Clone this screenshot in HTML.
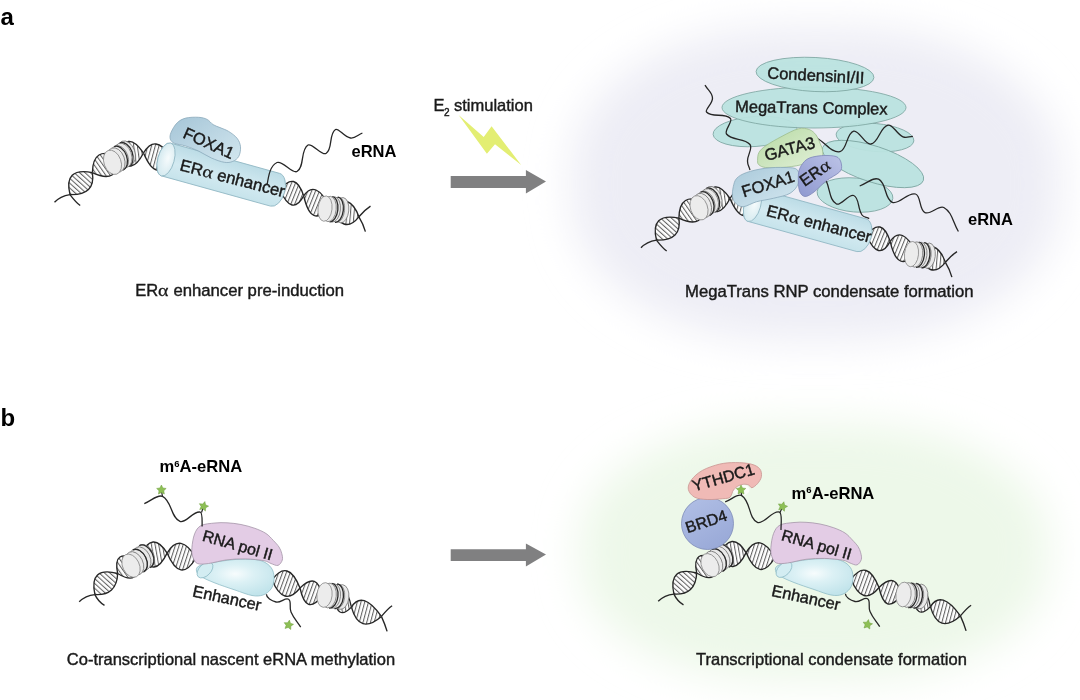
<!DOCTYPE html><html><head><meta charset="utf-8"><style>html,body{margin:0;padding:0;background:#fff;width:1080px;height:700px;overflow:hidden}svg{display:block;filter:blur(0.4px)}</style></head><body><svg width="1080" height="700" viewBox="0 0 1080 700" font-family="Liberation Sans, sans-serif"><defs><linearGradient id="cylA" x1="0" y1="0" x2="0" y2="1"><stop offset="0" stop-color="#bcdce6"/><stop offset="0.55" stop-color="#d3eaf1"/><stop offset="1" stop-color="#c6e3eb"/></linearGradient><radialGradient id="cylB" cx="0.5" cy="0.4" r="0.6"><stop offset="0" stop-color="#f7fcfd"/><stop offset="0.4" stop-color="#dcf1f5"/><stop offset="1" stop-color="#c2e4eb"/></radialGradient><linearGradient id="gFox" x1="0" y1="0" x2="1" y2="1"><stop offset="0" stop-color="#a5c5d7"/><stop offset="1" stop-color="#d3e7ef"/></linearGradient><linearGradient id="gFox2" x1="0" y1="0" x2="1" y2="1"><stop offset="0" stop-color="#a9c9da"/><stop offset="1" stop-color="#d5e8f0"/></linearGradient><linearGradient id="gGata" x1="0" y1="0" x2="1" y2="1"><stop offset="0" stop-color="#b6d9a2"/><stop offset="1" stop-color="#e3f1da"/></linearGradient><linearGradient id="gEra" x1="0" y1="1" x2="1" y2="0"><stop offset="0" stop-color="#8e98cf"/><stop offset="1" stop-color="#bcc3e7"/></linearGradient><linearGradient id="gBrd" x1="0" y1="0" x2="0.6" y2="1"><stop offset="0" stop-color="#b2c0e6"/><stop offset="1" stop-color="#9aaad8"/></linearGradient><radialGradient id="gFace" cx="0.6" cy="0.45" r="0.6"><stop offset="0" stop-color="#f6fbfc"/><stop offset="1" stop-color="#d3e9ef"/></radialGradient><filter id="blur" x="-30%" y="-30%" width="160%" height="160%"><feGaussianBlur stdDeviation="21"/></filter><pattern id="h0" patternUnits="userSpaceOnUse" width="3.6" height="10" patternTransform="rotate(-48)"><rect width="3.6" height="10" fill="#fff"/><line x1="0.6" y1="0" x2="0.6" y2="10" stroke="#3a3a3a" stroke-width="0.9"/></pattern><pattern id="h1" patternUnits="userSpaceOnUse" width="3.6" height="10" patternTransform="rotate(-35)"><rect width="3.6" height="10" fill="#fff"/><line x1="0.6" y1="0" x2="0.6" y2="10" stroke="#3a3a3a" stroke-width="0.9"/></pattern><pattern id="h2" patternUnits="userSpaceOnUse" width="3.6" height="10" patternTransform="rotate(-8)"><rect width="3.6" height="10" fill="#fff"/><line x1="0.6" y1="0" x2="0.6" y2="10" stroke="#3a3a3a" stroke-width="0.9"/></pattern><pattern id="h3" patternUnits="userSpaceOnUse" width="3.6" height="10" patternTransform="rotate(15)"><rect width="3.6" height="10" fill="#fff"/><line x1="0.6" y1="0" x2="0.6" y2="10" stroke="#3a3a3a" stroke-width="0.9"/></pattern><pattern id="h4" patternUnits="userSpaceOnUse" width="3.6" height="10" patternTransform="rotate(22)"><rect width="3.6" height="10" fill="#fff"/><line x1="0.6" y1="0" x2="0.6" y2="10" stroke="#3a3a3a" stroke-width="0.9"/></pattern><pattern id="h5" patternUnits="userSpaceOnUse" width="3.6" height="10" patternTransform="rotate(5)"><rect width="3.6" height="10" fill="#fff"/><line x1="0.6" y1="0" x2="0.6" y2="10" stroke="#3a3a3a" stroke-width="0.9"/></pattern><pattern id="h6" patternUnits="userSpaceOnUse" width="3.6" height="10" patternTransform="rotate(-10)"><rect width="3.6" height="10" fill="#fff"/><line x1="0.6" y1="0" x2="0.6" y2="10" stroke="#3a3a3a" stroke-width="0.9"/></pattern><pattern id="h7" patternUnits="userSpaceOnUse" width="3.6" height="10" patternTransform="rotate(18)"><rect width="3.6" height="10" fill="#fff"/><line x1="0.6" y1="0" x2="0.6" y2="10" stroke="#3a3a3a" stroke-width="0.9"/></pattern><pattern id="h8" patternUnits="userSpaceOnUse" width="3.6" height="10" patternTransform="rotate(20)"><rect width="3.6" height="10" fill="#fff"/><line x1="0.6" y1="0" x2="0.6" y2="10" stroke="#3a3a3a" stroke-width="0.9"/></pattern></defs><rect width="1080" height="700" fill="#fff"/><rect x="572" y="28" width="488" height="312" rx="210" ry="140" fill="#ededf5" filter="url(#blur)"/><rect x="580" y="424" width="468" height="256" rx="200" ry="115" fill="#edf8e9" filter="url(#blur)"/><text x="0.5" y="24.5" font-size="24" font-weight="bold" fill="#000" >a</text><text x="0.5" y="426.3" font-size="24" font-weight="bold" fill="#000" >b</text><path d="M54.5,202.3C57.5,199 62.5,195.8 70,194.6" fill="none" stroke="#262626" stroke-width="1.35" /><path d="M70,194.6C73,198.5 76,202.5 80.2,205.5" fill="none" stroke="#262626" stroke-width="1.35" /><path d="M70,194.6C65.47,176.2 72.93,168.87 92.4,172.6C94.67,187.8 87.2,195.13 70,194.6Z" fill="url(#h0)"/><path d="M70,194.6C65.47,176.2 72.93,168.87 92.4,172.6M70,194.6C87.2,195.13 94.67,187.8 92.4,172.6" fill="none" stroke="#262626" stroke-width="1.35"/><path d="M92.4,172.6C92.67,154.33 101.2,149.13 118,157C118.53,175.8 110,181 92.4,172.6Z" fill="url(#h1)"/><path d="M92.4,172.6C92.67,154.33 101.2,149.13 118,157M92.4,172.6C110,181 118.53,175.8 118,157" fill="none" stroke="#262626" stroke-width="1.35"/><path d="M118,157C123.5,137.67 132,136.33 143.5,153C135.33,169 126.83,170.33 118,157Z" fill="url(#h2)"/><path d="M118,157C123.5,137.67 132,136.33 143.5,153M118,157C126.83,170.33 135.33,169 143.5,153" fill="none" stroke="#262626" stroke-width="1.35"/><path d="M143.5,153C151.33,140 160.17,141 170,156C161.5,175.67 152.67,174.67 143.5,153Z" fill="url(#h3)"/><path d="M143.5,153C151.33,140 160.17,141 170,156M143.5,153C152.67,174.67 161.5,175.67 170,156" fill="none" stroke="#262626" stroke-width="1.35"/><ellipse cx="126.5" cy="153.1" rx="8.5" ry="12.6" transform="rotate(-20 126.5 153.1)" fill="#e9e9e9" stroke="#777" stroke-width="0.8"/><path transform="translate(124.05 154.71) rotate(-20)" d="M0,-12.6A8.5,12.6 0 0 1 0,12.6" fill="none" stroke="#2a2a2a" stroke-width="1.3"/><ellipse cx="123" cy="155.4" rx="8.5" ry="12.6" transform="rotate(-20 123 155.4)" fill="#e9e9e9" stroke="#777" stroke-width="0.8"/><ellipse cx="119.5" cy="157.7" rx="8.5" ry="12.6" transform="rotate(-20 119.5 157.7)" fill="#e9e9e9" stroke="#777" stroke-width="0.8"/><path transform="translate(118.45 158.39) rotate(-20)" d="M0,-12.6A8.5,12.6 0 0 1 0,12.6" fill="none" stroke="#2a2a2a" stroke-width="1.3"/><ellipse cx="116" cy="160" rx="8.5" ry="12.6" transform="rotate(-20 116 160)" fill="#e9e9e9" stroke="#777" stroke-width="0.8"/><ellipse cx="112.5" cy="162.3" rx="8.5" ry="12.6" transform="rotate(-20 112.5 162.3)" fill="#ececec" stroke="#8a8a8a" stroke-width="0.8"/><path d="M280,190C290.1,176.7 298,178.67 303.7,195.9C296,210 288.1,208.03 280,190Z" fill="url(#h4)"/><path d="M280,190C290.1,176.7 298,178.67 303.7,195.9M280,190C288.1,208.03 296,210 303.7,195.9" fill="none" stroke="#262626" stroke-width="1.35"/><path d="M303.7,195.9C311.33,184.33 320.1,188.03 330,207C317.43,222.03 308.67,218.33 303.7,195.9Z" fill="url(#h4)"/><path d="M303.7,195.9C311.33,184.33 320.1,188.03 330,207M303.7,195.9C308.67,218.33 317.43,222.03 330,207" fill="none" stroke="#262626" stroke-width="1.35"/><path d="M330,207C343.03,196.4 352.67,199.67 358.9,216.8C348.67,229.67 339.03,226.4 330,207Z" fill="url(#h5)"/><path d="M330,207C343.03,196.4 352.67,199.67 358.9,216.8M330,207C339.03,226.4 348.67,229.67 358.9,216.8" fill="none" stroke="#262626" stroke-width="1.35"/><ellipse cx="341.8" cy="210.2" rx="7" ry="12.7" transform="rotate(6 341.8 210.2)" fill="#e9e9e9" stroke="#777" stroke-width="0.8"/><ellipse cx="337.6" cy="209.8" rx="7" ry="12.7" transform="rotate(6 337.6 209.8)" fill="#e9e9e9" stroke="#777" stroke-width="0.8"/><path transform="translate(336.34 209.68) rotate(6)" d="M0,-12.7A7,12.7 0 0 1 0,12.7" fill="none" stroke="#2a2a2a" stroke-width="1.3"/><ellipse cx="333.4" cy="209.4" rx="7" ry="12.7" transform="rotate(6 333.4 209.4)" fill="#e9e9e9" stroke="#777" stroke-width="0.8"/><path transform="translate(330.88 209.16) rotate(6)" d="M0,-12.7A7,12.7 0 0 1 0,12.7" fill="none" stroke="#2a2a2a" stroke-width="1.3"/><ellipse cx="329.2" cy="209" rx="7" ry="12.7" transform="rotate(6 329.2 209)" fill="#e9e9e9" stroke="#777" stroke-width="0.8"/><ellipse cx="325" cy="208.6" rx="7" ry="12.7" transform="rotate(6 325 208.6)" fill="#ececec" stroke="#8a8a8a" stroke-width="0.8"/><path d="M358.9,216.8C362,213 366,209 370.5,206.1" fill="none" stroke="#262626" stroke-width="1.35" /><path d="M358.9,216.8C361.5,221 364,226.5 365.4,231.6" fill="none" stroke="#262626" stroke-width="1.35" /><g transform="translate(166 159.5) rotate(15.5)"><path d="M0,-17L113,-17A10,17 0 0 1 113,17L0,17A8.2,17 0 0 1 0,-17Z" fill="url(#cylA)" stroke="#8fb6c2" stroke-width="0.8"/><ellipse cx="0" cy="0" rx="8.2" ry="17" fill="url(#gFace)" stroke="#8fb6c2" stroke-width="0.8"/></g><g transform="translate(179 170.3) rotate(14.5)"><text x="0" y="0" font-size="16.6" fill="#1a1a1a" stroke="#1a1a1a" stroke-width="0.42">ER</text><text x="0" y="0" font-family="Liberation Serif" font-size="17.1" fill="#1a1a1a" stroke="#1a1a1a" stroke-width="0.25" transform="translate(23.16 0) scale(1.17 1)">&#945;</text><text x="38.45" y="0" font-size="16.6" fill="#1a1a1a" stroke="#1a1a1a" stroke-width="0.42">enhancer</text></g><path d="M171.1,132.3C172.23,129.6 174.67,125.27 177.1,122.9C179.53,120.53 182.12,119.03 185.7,118.1C189.28,117.17 195.03,117.08 198.6,117.3C202.17,117.52 204.68,118.18 207.1,119.4C209.52,120.62 210.95,123.23 213.1,124.6C215.25,125.97 217.42,126.47 220,127.6C222.58,128.73 225.75,129.62 228.6,131.4C231.45,133.18 235.12,135.73 237.1,138.3C239.08,140.87 240.22,143.8 240.5,146.8C240.78,149.8 240.08,153.87 238.8,156.3C237.52,158.73 235.22,160.4 232.8,161.4C230.38,162.4 227.87,162.87 224.3,162.3C220.73,161.73 215.68,159.87 211.4,158C207.12,156.13 202.88,153.1 198.6,151.1C194.32,149.1 189.7,147.28 185.7,146C181.7,144.72 177.17,144.55 174.6,143.4C172.03,142.25 170.88,140.95 170.3,139.1C169.72,137.25 169.97,135 171.1,132.3Z" fill="url(#gFox)" stroke="#8aaabb" stroke-width="0.8" /><text x="182" y="137.3" font-size="16.4" font-weight="normal" fill="#1a1a1a" stroke="#1a1a1a" stroke-width="0.42" transform="rotate(24 182 137.3)" >FOXA1</text><path d="M267.1,185C268.51,175.59 270.21,165.56 277,162.5C282.49,160.02 292.27,174.17 297,171.5C304.92,167.03 300.05,149.94 308,145C311.92,142.57 321.76,155.89 326,153.5C333.08,149.51 328.38,134.01 335.5,129.5C338.53,127.58 343.99,137.15 350.5,138C355.2,138.61 357.42,135.09 362.4,133" fill="none" stroke="#262626" stroke-width="1.3" /><text x="351.5" y="157" font-size="16.5" font-weight="bold" fill="#000" >eRNA</text><text x="135.3" y="295.9" font-size="16.5" font-weight="normal" fill="#1a1a1a" stroke="#1a1a1a" stroke-width="0.42" >ER</text><text x="0" y="0" font-family="Liberation Serif" font-size="17" fill="#1a1a1a" stroke="#1a1a1a" stroke-width="0.25" transform="translate(158.1 295.9) scale(1.17 1)">&#945;</text><text x="173.4" y="295.9" font-size="16.7" font-weight="normal" fill="#1a1a1a" stroke="#1a1a1a" stroke-width="0.42" >enhancer pre-induction</text><path d="M450.7,175.9H525.9V170.1L546,181.4L525.9,193.4V187.9H450.7Z" fill="#808081"/><path d="M450.7,549.2H525.9V543.6L546,554.6L525.9,566.6V560.9H450.7Z" fill="#808081"/><path d="M458.6,115.1L483.7,137L491.6,126.3L521.2,164.9L495,144.3L486.9,153.7Z" fill="#e3ee73"/><text x="433.5" y="110.6" font-size="16.5" font-weight="normal" fill="#1a1a1a" stroke="#1a1a1a" stroke-width="0.42" >E</text><text x="444" y="116.3" font-size="10" font-weight="normal" fill="#1a1a1a" stroke="#1a1a1a" stroke-width="0.42" >2</text><text x="454" y="110.6" font-size="16.5" font-weight="normal" fill="#1a1a1a" stroke="#1a1a1a" stroke-width="0.42" >stimulation</text><ellipse cx="755" cy="131.5" rx="42" ry="15" transform="rotate(-4 755 131.5)" fill="#bae3df" fill-opacity="0.95" stroke="#7ea6a2" stroke-width="0.85"/><ellipse cx="875" cy="137.5" rx="39" ry="14" transform="rotate(5 875 137.5)" fill="#bae3df" fill-opacity="0.95" stroke="#7ea6a2" stroke-width="0.85"/><ellipse cx="855" cy="195" rx="38" ry="17" transform="rotate(5 855 195)" fill="#bae3df" fill-opacity="0.95" stroke="#7ea6a2" stroke-width="0.85"/><ellipse cx="873" cy="164" rx="53" ry="18" transform="rotate(18 873 164)" fill="#bae3df" fill-opacity="0.95" stroke="#7ea6a2" stroke-width="0.85"/><ellipse cx="814" cy="107.5" rx="92" ry="20.5" transform="rotate(0 814 107.5)" fill="#bae3df" fill-opacity="0.95" stroke="#7ea6a2" stroke-width="0.85"/><ellipse cx="815" cy="74.5" rx="59" ry="17" transform="rotate(3 815 74.5)" fill="#bae3df" fill-opacity="0.95" stroke="#7ea6a2" stroke-width="0.85"/><text x="767" y="78.5" font-size="16.5" font-weight="normal" fill="#1a1a1a" stroke="#1a1a1a" stroke-width="0.42" transform="rotate(3 767 78.5)" >CondensinI/II</text><text x="735" y="112" font-size="16.5" font-weight="normal" fill="#1a1a1a" stroke="#1a1a1a" stroke-width="0.42" transform="rotate(1 735 112)" >MegaTrans Complex</text><path d="M705,85.2C708.1,90.5 712.19,92.49 712.5,98C712.82,103.68 704.53,109.75 706.5,112C712.02,118.29 724.81,112.24 730.5,118.5C733.08,121.34 723.92,130.56 726.5,134C731.93,141.24 744.39,137.29 750,144.5C752.99,148.34 747.5,154.23 747.5,161C747.5,164.92 748.92,166.1 750,170" fill="none" stroke="#262626" stroke-width="1.3" /><path d="M816.9,138C826.11,143.46 831.97,153.21 840,151.7C846.94,150.4 846.48,132.9 853.7,131.1C859.19,129.73 864.9,145.05 870.9,144C878.92,142.6 879.79,126.94 888,125.1C892.97,123.99 896.14,133.71 903,136.8C906.51,138.38 908.64,136.52 912.9,136.3" fill="none" stroke="#262626" stroke-width="1.3" /><path d="M826.3,181C830.38,190.2 829.42,200.25 836.5,204C840.71,206.23 848.91,193.43 853.7,195.5C859.51,198.01 857.31,208.02 862,215C863.76,217.62 866.02,217.01 869.2,218.6" fill="none" stroke="#262626" stroke-width="1.3" /><path d="M859.7,186C867.35,183.25 873.44,176.62 878.6,179.2C886.72,183.26 884.32,199.1 892.3,202.3C899.27,205.1 907.91,191.61 915.5,194C921.29,195.82 918.86,209.67 925,212.6C930.52,215.23 938.78,204.66 943.8,207.5C952.35,212.34 952.59,221.95 958.4,231.5" fill="none" stroke="#262626" stroke-width="1.3" /><g transform="translate(586.5 45.5)"><path d="M54.5,202.3C57.5,199 62.5,195.8 70,194.6" fill="none" stroke="#262626" stroke-width="1.35" /><path d="M70,194.6C73,198.5 76,202.5 80.2,205.5" fill="none" stroke="#262626" stroke-width="1.35" /><path d="M70,194.6C65.47,176.2 72.93,168.87 92.4,172.6C94.67,187.8 87.2,195.13 70,194.6Z" fill="url(#h0)"/><path d="M70,194.6C65.47,176.2 72.93,168.87 92.4,172.6M70,194.6C87.2,195.13 94.67,187.8 92.4,172.6" fill="none" stroke="#262626" stroke-width="1.35"/><path d="M92.4,172.6C92.67,154.33 101.2,149.13 118,157C118.53,175.8 110,181 92.4,172.6Z" fill="url(#h1)"/><path d="M92.4,172.6C92.67,154.33 101.2,149.13 118,157M92.4,172.6C110,181 118.53,175.8 118,157" fill="none" stroke="#262626" stroke-width="1.35"/><path d="M118,157C123.5,137.67 132,136.33 143.5,153C135.33,169 126.83,170.33 118,157Z" fill="url(#h2)"/><path d="M118,157C123.5,137.67 132,136.33 143.5,153M118,157C126.83,170.33 135.33,169 143.5,153" fill="none" stroke="#262626" stroke-width="1.35"/><path d="M143.5,153C151.33,140 160.17,141 170,156C161.5,175.67 152.67,174.67 143.5,153Z" fill="url(#h3)"/><path d="M143.5,153C151.33,140 160.17,141 170,156M143.5,153C152.67,174.67 161.5,175.67 170,156" fill="none" stroke="#262626" stroke-width="1.35"/><ellipse cx="126.5" cy="153.1" rx="8.5" ry="12.6" transform="rotate(-20 126.5 153.1)" fill="#e9e9e9" stroke="#777" stroke-width="0.8"/><path transform="translate(124.05 154.71) rotate(-20)" d="M0,-12.6A8.5,12.6 0 0 1 0,12.6" fill="none" stroke="#2a2a2a" stroke-width="1.3"/><ellipse cx="123" cy="155.4" rx="8.5" ry="12.6" transform="rotate(-20 123 155.4)" fill="#e9e9e9" stroke="#777" stroke-width="0.8"/><ellipse cx="119.5" cy="157.7" rx="8.5" ry="12.6" transform="rotate(-20 119.5 157.7)" fill="#e9e9e9" stroke="#777" stroke-width="0.8"/><path transform="translate(118.45 158.39) rotate(-20)" d="M0,-12.6A8.5,12.6 0 0 1 0,12.6" fill="none" stroke="#2a2a2a" stroke-width="1.3"/><ellipse cx="116" cy="160" rx="8.5" ry="12.6" transform="rotate(-20 116 160)" fill="#e9e9e9" stroke="#777" stroke-width="0.8"/><ellipse cx="112.5" cy="162.3" rx="8.5" ry="12.6" transform="rotate(-20 112.5 162.3)" fill="#ececec" stroke="#8a8a8a" stroke-width="0.8"/><path d="M280,190C290.1,176.7 298,178.67 303.7,195.9C296,210 288.1,208.03 280,190Z" fill="url(#h4)"/><path d="M280,190C290.1,176.7 298,178.67 303.7,195.9M280,190C288.1,208.03 296,210 303.7,195.9" fill="none" stroke="#262626" stroke-width="1.35"/><path d="M303.7,195.9C311.33,184.33 320.1,188.03 330,207C317.43,222.03 308.67,218.33 303.7,195.9Z" fill="url(#h4)"/><path d="M303.7,195.9C311.33,184.33 320.1,188.03 330,207M303.7,195.9C308.67,218.33 317.43,222.03 330,207" fill="none" stroke="#262626" stroke-width="1.35"/><path d="M330,207C343.03,196.4 352.67,199.67 358.9,216.8C348.67,229.67 339.03,226.4 330,207Z" fill="url(#h5)"/><path d="M330,207C343.03,196.4 352.67,199.67 358.9,216.8M330,207C339.03,226.4 348.67,229.67 358.9,216.8" fill="none" stroke="#262626" stroke-width="1.35"/><ellipse cx="341.8" cy="210.2" rx="7" ry="12.7" transform="rotate(6 341.8 210.2)" fill="#e9e9e9" stroke="#777" stroke-width="0.8"/><ellipse cx="337.6" cy="209.8" rx="7" ry="12.7" transform="rotate(6 337.6 209.8)" fill="#e9e9e9" stroke="#777" stroke-width="0.8"/><path transform="translate(336.34 209.68) rotate(6)" d="M0,-12.7A7,12.7 0 0 1 0,12.7" fill="none" stroke="#2a2a2a" stroke-width="1.3"/><ellipse cx="333.4" cy="209.4" rx="7" ry="12.7" transform="rotate(6 333.4 209.4)" fill="#e9e9e9" stroke="#777" stroke-width="0.8"/><path transform="translate(330.88 209.16) rotate(6)" d="M0,-12.7A7,12.7 0 0 1 0,12.7" fill="none" stroke="#2a2a2a" stroke-width="1.3"/><ellipse cx="329.2" cy="209" rx="7" ry="12.7" transform="rotate(6 329.2 209)" fill="#e9e9e9" stroke="#777" stroke-width="0.8"/><ellipse cx="325" cy="208.6" rx="7" ry="12.7" transform="rotate(6 325 208.6)" fill="#ececec" stroke="#8a8a8a" stroke-width="0.8"/><path d="M358.9,216.8C362,213 366,209 370.5,206.1" fill="none" stroke="#262626" stroke-width="1.35" /><path d="M358.9,216.8C361.5,221 364,226.5 365.4,231.6" fill="none" stroke="#262626" stroke-width="1.35" /><g transform="translate(166 159.5) rotate(15.5)"><path d="M0,-17L113,-17A10,17 0 0 1 113,17L0,17A8.2,17 0 0 1 0,-17Z" fill="url(#cylA)" stroke="#8fb6c2" stroke-width="0.8"/><ellipse cx="0" cy="0" rx="8.2" ry="17" fill="url(#gFace)" stroke="#8fb6c2" stroke-width="0.8"/></g><g transform="translate(179 170.3) rotate(14.5)"><text x="0" y="0" font-size="16.6" fill="#1a1a1a" stroke="#1a1a1a" stroke-width="0.42">ER</text><text x="0" y="0" font-family="Liberation Serif" font-size="17.1" fill="#1a1a1a" stroke="#1a1a1a" stroke-width="0.25" transform="translate(23.16 0) scale(1.17 1)">&#945;</text><text x="38.45" y="0" font-size="16.6" fill="#1a1a1a" stroke="#1a1a1a" stroke-width="0.42">enhancer</text></g></g><path d="M757.6,160.7C757.6,158.67 757.55,155.08 758.9,152.6C760.25,150.12 761.85,148.52 765.7,145.8C769.55,143.08 776.57,139.13 782,136.3C787.43,133.47 793.77,129.93 798.3,128.8C802.83,127.67 806.25,128.48 809.2,129.5C812.15,130.52 814.2,132.63 816,134.9C817.8,137.17 818.88,140.38 820,143.1C821.12,145.82 822.7,148.72 822.7,151.2C822.7,153.68 823.62,155.73 820,158C816.38,160.27 807.33,163.22 801,164.8C794.67,166.38 787.88,167.05 782,167.5C776.12,167.95 769.55,167.95 765.7,167.5C761.85,167.05 760.25,165.93 758.9,164.8C757.55,163.67 757.6,162.73 757.6,160.7Z" fill="url(#gGata)" stroke="#9dbd8e" stroke-width="0.8" /><text x="766.2" y="160.9" font-size="16.5" font-weight="normal" fill="#1a1a1a" stroke="#1a1a1a" stroke-width="0.42" transform="rotate(-15 766.2 160.9)" >GATA3</text><path d="M733.3,186.7C734,183.63 734.47,180.67 736.7,178.3C738.93,175.93 741.98,174.17 746.7,172.5C751.42,170.83 758.62,169.13 765,168.3C771.38,167.47 779.58,167.22 785,167.5C790.42,167.78 795.28,167.37 797.5,170C799.72,172.63 799.55,179.42 798.3,183.3C797.05,187.18 794.17,190.8 790,193.3C785.83,195.8 778.85,196.9 773.3,198.3C767.75,199.7 761.7,200.3 756.7,201.7C751.7,203.1 746.78,206.43 743.3,206.7C739.82,206.97 737.6,204.97 735.8,203.3C734,201.63 732.92,199.47 732.5,196.7C732.08,193.93 732.6,189.77 733.3,186.7Z" fill="url(#gFox2)" stroke="#8aaabb" stroke-width="0.8" /><text x="743.8" y="197.6" font-size="16.5" font-weight="normal" fill="#1a1a1a" stroke="#1a1a1a" stroke-width="0.42" transform="rotate(-17.5 743.8 197.6)" >FOXA1</text><path d="M798.3,177C798.38,173.17 798.72,170.83 800,168C801.28,165.17 803.5,161.92 806,160C808.5,158.08 811.33,157.25 815,156.5C818.67,155.75 824.17,155.33 828,155.5C831.83,155.67 835.75,155.92 838,157.5C840.25,159.08 841.25,162.58 841.5,165C841.75,167.42 842.08,169.33 839.5,172C836.92,174.67 830.25,177.67 826,181C821.75,184.33 817.5,189.42 814,192C810.5,194.58 807.42,196.67 805,196.5C802.58,196.33 800.62,194.25 799.5,191C798.38,187.75 798.22,180.83 798.3,177Z" fill="url(#gEra)" stroke="#7d87b8" stroke-width="0.8" /><g transform="translate(804.5 187) rotate(-35)"><text x="0" y="0" font-size="16.5" fill="#1a1a1a" stroke="#1a1a1a" stroke-width="0.42">ER</text><text x="0" y="0" font-family="Liberation Serif" font-size="17" fill="#1a1a1a" stroke="#1a1a1a" stroke-width="0.25" transform="translate(23.02 0) scale(1.17 1)">&#945;</text></g><text x="968" y="225" font-size="16.5" font-weight="bold" fill="#000" >eRNA</text><path d="M79.2,601.8C82.5,598.5 88,595.3 94.9,594.6" fill="none" stroke="#262626" stroke-width="1.35" /><path d="M94.9,594.6C97,599 100.5,603 104.5,605.4" fill="none" stroke="#262626" stroke-width="1.35" /><path d="M94.9,594.6C90.77,575.5 98.37,568.47 117.7,573.5C117.03,588.47 109.43,595.5 94.9,594.6Z" fill="url(#h0)"/><path d="M94.9,594.6C90.77,575.5 98.37,568.47 117.7,573.5M94.9,594.6C109.43,595.5 117.03,588.47 117.7,573.5" fill="none" stroke="#262626" stroke-width="1.35"/><path d="M117.7,573.5C114,556 120.77,551.5 138,560C139.43,578.17 132.67,582.67 117.7,573.5Z" fill="url(#h1)"/><path d="M117.7,573.5C114,556 120.77,551.5 138,560M117.7,573.5C132.67,582.67 139.43,578.17 138,560" fill="none" stroke="#262626" stroke-width="1.35"/><path d="M140,556C148.3,538.3 157.33,537.33 167.1,553.1C158.67,570.67 149.63,571.63 140,556Z" fill="url(#h6)"/><path d="M140,556C148.3,538.3 157.33,537.33 167.1,553.1M140,556C149.63,571.63 158.67,570.67 167.1,553.1" fill="none" stroke="#262626" stroke-width="1.35"/><path d="M167.1,553.1C175.87,538.53 185.5,540.17 196,558C185.5,575.5 175.87,573.87 167.1,553.1Z" fill="url(#h7)"/><path d="M167.1,553.1C175.87,538.53 185.5,540.17 196,558M167.1,553.1C175.87,573.87 185.5,575.5 196,558" fill="none" stroke="#262626" stroke-width="1.35"/><ellipse cx="145.4" cy="556.1" rx="8.3" ry="12.3" transform="rotate(-26 145.4 556.1)" fill="#e9e9e9" stroke="#777" stroke-width="0.8"/><path transform="translate(144.68 556.58) rotate(-26)" d="M0,-12.3A8.3,12.3 0 0 1 0,12.3" fill="none" stroke="#2a2a2a" stroke-width="1.3"/><ellipse cx="141.8" cy="558.5" rx="8.3" ry="12.3" transform="rotate(-26 141.8 558.5)" fill="#e9e9e9" stroke="#777" stroke-width="0.8"/><ellipse cx="138.2" cy="560.9" rx="8.3" ry="12.3" transform="rotate(-26 138.2 560.9)" fill="#e9e9e9" stroke="#777" stroke-width="0.8"/><path transform="translate(138.2 560.9) rotate(-26)" d="M0,-12.3A8.3,12.3 0 0 1 0,12.3" fill="none" stroke="#2a2a2a" stroke-width="1.3"/><ellipse cx="134.6" cy="563.3" rx="8.3" ry="12.3" transform="rotate(-26 134.6 563.3)" fill="#e9e9e9" stroke="#777" stroke-width="0.8"/><ellipse cx="131" cy="565.7" rx="8.3" ry="12.3" transform="rotate(-26 131 565.7)" fill="#ececec" stroke="#8a8a8a" stroke-width="0.8"/><path d="M272,580C282.67,565.33 292,568 300,588C289.33,601.33 280,598.67 272,580Z" fill="url(#h8)"/><path d="M272,580C282.67,565.33 292,568 300,588M272,580C280,598.67 289.33,601.33 300,588" fill="none" stroke="#262626" stroke-width="1.35"/><path d="M300,588C311.73,576.53 319.07,579.2 322,596C311.47,609.73 304.13,607.07 300,588Z" fill="url(#h8)"/><path d="M300,588C311.73,576.53 319.07,579.2 322,596M300,588C304.13,607.07 311.47,609.73 322,596" fill="none" stroke="#262626" stroke-width="1.35"/><path d="M334,597C341.53,584.3 347.33,587.67 351.4,607.1C342,617 336.2,613.63 334,597Z" fill="url(#h6)"/><path d="M334,597C341.53,584.3 347.33,587.67 351.4,607.1M334,597C336.2,613.63 342,617 351.4,607.1" fill="none" stroke="#262626" stroke-width="1.35"/><path d="M351.4,607.1C358.6,595.47 368.6,598.57 381.4,616.4C366.73,629.1 356.73,626 351.4,607.1Z" fill="url(#h3)"/><path d="M351.4,607.1C358.6,595.47 368.6,598.57 381.4,616.4M351.4,607.1C356.73,626 366.73,629.1 381.4,616.4" fill="none" stroke="#262626" stroke-width="1.35"/><ellipse cx="341.3" cy="597" rx="7.6" ry="12.4" transform="rotate(6 341.3 597)" fill="#e9e9e9" stroke="#777" stroke-width="0.8"/><ellipse cx="337.1" cy="596.5" rx="7.6" ry="12.4" transform="rotate(6 337.1 596.5)" fill="#e9e9e9" stroke="#777" stroke-width="0.8"/><path transform="translate(335.84 596.35) rotate(6)" d="M0,-12.4A7.6,12.4 0 0 1 0,12.4" fill="none" stroke="#2a2a2a" stroke-width="1.3"/><ellipse cx="332.9" cy="596" rx="7.6" ry="12.4" transform="rotate(6 332.9 596)" fill="#e9e9e9" stroke="#777" stroke-width="0.8"/><path transform="translate(330.38 595.7) rotate(6)" d="M0,-12.4A7.6,12.4 0 0 1 0,12.4" fill="none" stroke="#2a2a2a" stroke-width="1.3"/><ellipse cx="328.7" cy="595.5" rx="7.6" ry="12.4" transform="rotate(6 328.7 595.5)" fill="#e9e9e9" stroke="#777" stroke-width="0.8"/><ellipse cx="324.5" cy="595" rx="7.6" ry="12.4" transform="rotate(6 324.5 595)" fill="#ececec" stroke="#8a8a8a" stroke-width="0.8"/><path d="M381.4,616.4C385,612 388,608.5 392.1,605.7" fill="none" stroke="#262626" stroke-width="1.35" /><path d="M381.4,616.4C383.5,621 385.5,626 387.1,631.4" fill="none" stroke="#262626" stroke-width="1.35" /><path d="M199,566C201.75,564.58 207,563.58 213,562.5C219,561.42 228,560 235,559.5C242,559 249.83,558.92 255,559.5C260.17,560.08 263.08,561.25 266,563C268.92,564.75 271.17,567.17 272.5,570C273.83,572.83 274.25,576.83 274,580C273.75,583.17 272.83,586.5 271,589C269.17,591.5 266.17,593.92 263,595C259.83,596.08 256.67,596.33 252,595.5C247.33,594.67 241.17,592.08 235,590C228.83,587.92 220.67,585.25 215,583C209.33,580.75 204.08,578.5 201,576.5C197.92,574.5 196.83,572.75 196.5,571C196.17,569.25 196.25,567.42 199,566Z" fill="url(#cylB)" stroke="#8fbcc6" stroke-width="0.8" /><ellipse cx="205" cy="570" rx="5.8" ry="9.6" transform="rotate(45 205 570)" fill="#d3edf2" stroke="#8fbcc6" stroke-width="0.8"/><path d="M194.6,533.9C196.12,530.2 197.6,527.42 201,525.6C204.4,523.78 210.67,523.47 215,523C219.33,522.53 222.67,522.55 227,522.8C231.33,523.05 236.37,523.58 241,524.5C245.63,525.42 250.63,526.8 254.8,528.3C258.97,529.8 262.92,531.48 266,533.5C269.08,535.52 271.13,538.15 273.3,540.4C275.47,542.65 277.6,544.85 279,547C280.4,549.15 281.15,551.13 281.7,553.3C282.25,555.47 282.92,557.98 282.3,560C281.68,562.02 279.88,564.82 278,565.4C276.12,565.98 273.33,564.28 271,563.5C268.67,562.72 268.23,561.47 264,560.7C259.77,559.93 251.77,559.05 245.6,558.9C239.43,558.75 233.18,559.03 227,559.8C220.82,560.57 213.43,562.88 208.5,563.5C203.57,564.12 200.02,564.58 197.4,563.5C194.78,562.42 193.72,559.62 192.8,557C191.88,554.38 191.6,551.65 191.9,547.8C192.2,543.95 193.08,537.6 194.6,533.9Z" fill="#e3cce5" stroke="#a596a8" stroke-width="0.8" /><text x="201.5" y="540.5" font-size="16" font-weight="normal" fill="#1a1a1a" stroke="#1a1a1a" stroke-width="0.42" transform="rotate(16 201.5 540.5)" >RNA pol II</text><text x="191.8" y="596.2" font-size="16.3" font-weight="normal" fill="#1a1a1a" stroke="#1a1a1a" stroke-width="0.42" transform="rotate(12.2 191.8 596.2)" >Enhancer</text><path d="M266.4,594.3C266.4,597.73 271.41,600.97 276,602C280.82,603.09 285.34,597.13 288.6,599.3C291.87,601.48 288.89,607.15 291,612C293.89,618.63 296.74,620.94 300.7,627.1" fill="none" stroke="#262626" stroke-width="1.3" /><path d="M289.47,620.08 L290.4,623.26 L293.55,624.3 L290.81,626.17 L290.79,629.49 L288.17,627.46 L285,628.47 L286.12,625.35 L284.19,622.65 L287.5,622.75Z" fill="#8dbf55" stroke="#6f9e3e" stroke-width="0.5"/><path d="M144.3,503.6C151.68,500.68 157.61,493.96 162.5,496.4C172.07,501.17 170.5,517.45 180,521.4C185.79,523.8 193.23,510.5 200.3,512.1C202.61,512.62 202.1,520.47 202.1,526.4" fill="none" stroke="#262626" stroke-width="1.3" /><path d="M162.5,496.5L161.5,491" fill="none" stroke="#262626" stroke-width="1.2" /><path d="M201.5,512.5L203.5,507" fill="none" stroke="#262626" stroke-width="1.2" /><path d="M161.4,485 L162.87,487.98 L166.16,488.45 L163.78,490.77 L164.34,494.05 L161.4,492.5 L158.46,494.05 L159.02,490.77 L156.64,488.45 L159.93,487.98Z" fill="#8dbf55" stroke="#6f9e3e" stroke-width="0.5"/><path d="M204.89,501.57 L205.54,504.83 L208.59,506.14 L205.7,507.76 L205.39,511.07 L202.95,508.81 L199.71,509.55 L201.1,506.53 L199.41,503.68 L202.7,504.07Z" fill="#8dbf55" stroke="#6f9e3e" stroke-width="0.5"/><text x="159.4" y="472.2" font-size="16.6" font-weight="bold" fill="#000" >m<tspan font-size="9.5" dy="-5.5">6</tspan><tspan dy="5.5">A-eRNA</tspan></text><g transform="translate(579 -0.5)"><path d="M79.2,601.8C82.5,598.5 88,595.3 94.9,594.6" fill="none" stroke="#262626" stroke-width="1.35" /><path d="M94.9,594.6C97,599 100.5,603 104.5,605.4" fill="none" stroke="#262626" stroke-width="1.35" /><path d="M94.9,594.6C90.77,575.5 98.37,568.47 117.7,573.5C117.03,588.47 109.43,595.5 94.9,594.6Z" fill="url(#h0)"/><path d="M94.9,594.6C90.77,575.5 98.37,568.47 117.7,573.5M94.9,594.6C109.43,595.5 117.03,588.47 117.7,573.5" fill="none" stroke="#262626" stroke-width="1.35"/><path d="M117.7,573.5C114,556 120.77,551.5 138,560C139.43,578.17 132.67,582.67 117.7,573.5Z" fill="url(#h1)"/><path d="M117.7,573.5C114,556 120.77,551.5 138,560M117.7,573.5C132.67,582.67 139.43,578.17 138,560" fill="none" stroke="#262626" stroke-width="1.35"/><path d="M140,556C148.3,538.3 157.33,537.33 167.1,553.1C158.67,570.67 149.63,571.63 140,556Z" fill="url(#h6)"/><path d="M140,556C148.3,538.3 157.33,537.33 167.1,553.1M140,556C149.63,571.63 158.67,570.67 167.1,553.1" fill="none" stroke="#262626" stroke-width="1.35"/><path d="M167.1,553.1C175.87,538.53 185.5,540.17 196,558C185.5,575.5 175.87,573.87 167.1,553.1Z" fill="url(#h7)"/><path d="M167.1,553.1C175.87,538.53 185.5,540.17 196,558M167.1,553.1C175.87,573.87 185.5,575.5 196,558" fill="none" stroke="#262626" stroke-width="1.35"/><ellipse cx="145.4" cy="556.1" rx="8.3" ry="12.3" transform="rotate(-26 145.4 556.1)" fill="#e9e9e9" stroke="#777" stroke-width="0.8"/><path transform="translate(144.68 556.58) rotate(-26)" d="M0,-12.3A8.3,12.3 0 0 1 0,12.3" fill="none" stroke="#2a2a2a" stroke-width="1.3"/><ellipse cx="141.8" cy="558.5" rx="8.3" ry="12.3" transform="rotate(-26 141.8 558.5)" fill="#e9e9e9" stroke="#777" stroke-width="0.8"/><ellipse cx="138.2" cy="560.9" rx="8.3" ry="12.3" transform="rotate(-26 138.2 560.9)" fill="#e9e9e9" stroke="#777" stroke-width="0.8"/><path transform="translate(138.2 560.9) rotate(-26)" d="M0,-12.3A8.3,12.3 0 0 1 0,12.3" fill="none" stroke="#2a2a2a" stroke-width="1.3"/><ellipse cx="134.6" cy="563.3" rx="8.3" ry="12.3" transform="rotate(-26 134.6 563.3)" fill="#e9e9e9" stroke="#777" stroke-width="0.8"/><ellipse cx="131" cy="565.7" rx="8.3" ry="12.3" transform="rotate(-26 131 565.7)" fill="#ececec" stroke="#8a8a8a" stroke-width="0.8"/><path d="M272,580C282.67,565.33 292,568 300,588C289.33,601.33 280,598.67 272,580Z" fill="url(#h8)"/><path d="M272,580C282.67,565.33 292,568 300,588M272,580C280,598.67 289.33,601.33 300,588" fill="none" stroke="#262626" stroke-width="1.35"/><path d="M300,588C311.73,576.53 319.07,579.2 322,596C311.47,609.73 304.13,607.07 300,588Z" fill="url(#h8)"/><path d="M300,588C311.73,576.53 319.07,579.2 322,596M300,588C304.13,607.07 311.47,609.73 322,596" fill="none" stroke="#262626" stroke-width="1.35"/><path d="M334,597C341.53,584.3 347.33,587.67 351.4,607.1C342,617 336.2,613.63 334,597Z" fill="url(#h6)"/><path d="M334,597C341.53,584.3 347.33,587.67 351.4,607.1M334,597C336.2,613.63 342,617 351.4,607.1" fill="none" stroke="#262626" stroke-width="1.35"/><path d="M351.4,607.1C358.6,595.47 368.6,598.57 381.4,616.4C366.73,629.1 356.73,626 351.4,607.1Z" fill="url(#h3)"/><path d="M351.4,607.1C358.6,595.47 368.6,598.57 381.4,616.4M351.4,607.1C356.73,626 366.73,629.1 381.4,616.4" fill="none" stroke="#262626" stroke-width="1.35"/><ellipse cx="341.3" cy="597" rx="7.6" ry="12.4" transform="rotate(6 341.3 597)" fill="#e9e9e9" stroke="#777" stroke-width="0.8"/><ellipse cx="337.1" cy="596.5" rx="7.6" ry="12.4" transform="rotate(6 337.1 596.5)" fill="#e9e9e9" stroke="#777" stroke-width="0.8"/><path transform="translate(335.84 596.35) rotate(6)" d="M0,-12.4A7.6,12.4 0 0 1 0,12.4" fill="none" stroke="#2a2a2a" stroke-width="1.3"/><ellipse cx="332.9" cy="596" rx="7.6" ry="12.4" transform="rotate(6 332.9 596)" fill="#e9e9e9" stroke="#777" stroke-width="0.8"/><path transform="translate(330.38 595.7) rotate(6)" d="M0,-12.4A7.6,12.4 0 0 1 0,12.4" fill="none" stroke="#2a2a2a" stroke-width="1.3"/><ellipse cx="328.7" cy="595.5" rx="7.6" ry="12.4" transform="rotate(6 328.7 595.5)" fill="#e9e9e9" stroke="#777" stroke-width="0.8"/><ellipse cx="324.5" cy="595" rx="7.6" ry="12.4" transform="rotate(6 324.5 595)" fill="#ececec" stroke="#8a8a8a" stroke-width="0.8"/><path d="M381.4,616.4C385,612 388,608.5 392.1,605.7" fill="none" stroke="#262626" stroke-width="1.35" /><path d="M381.4,616.4C383.5,621 385.5,626 387.1,631.4" fill="none" stroke="#262626" stroke-width="1.35" /><path d="M199,566C201.75,564.58 207,563.58 213,562.5C219,561.42 228,560 235,559.5C242,559 249.83,558.92 255,559.5C260.17,560.08 263.08,561.25 266,563C268.92,564.75 271.17,567.17 272.5,570C273.83,572.83 274.25,576.83 274,580C273.75,583.17 272.83,586.5 271,589C269.17,591.5 266.17,593.92 263,595C259.83,596.08 256.67,596.33 252,595.5C247.33,594.67 241.17,592.08 235,590C228.83,587.92 220.67,585.25 215,583C209.33,580.75 204.08,578.5 201,576.5C197.92,574.5 196.83,572.75 196.5,571C196.17,569.25 196.25,567.42 199,566Z" fill="url(#cylB)" stroke="#8fbcc6" stroke-width="0.8" /><ellipse cx="205" cy="570" rx="5.8" ry="9.6" transform="rotate(45 205 570)" fill="#d3edf2" stroke="#8fbcc6" stroke-width="0.8"/><path d="M194.6,533.9C196.12,530.2 197.6,527.42 201,525.6C204.4,523.78 210.67,523.47 215,523C219.33,522.53 222.67,522.55 227,522.8C231.33,523.05 236.37,523.58 241,524.5C245.63,525.42 250.63,526.8 254.8,528.3C258.97,529.8 262.92,531.48 266,533.5C269.08,535.52 271.13,538.15 273.3,540.4C275.47,542.65 277.6,544.85 279,547C280.4,549.15 281.15,551.13 281.7,553.3C282.25,555.47 282.92,557.98 282.3,560C281.68,562.02 279.88,564.82 278,565.4C276.12,565.98 273.33,564.28 271,563.5C268.67,562.72 268.23,561.47 264,560.7C259.77,559.93 251.77,559.05 245.6,558.9C239.43,558.75 233.18,559.03 227,559.8C220.82,560.57 213.43,562.88 208.5,563.5C203.57,564.12 200.02,564.58 197.4,563.5C194.78,562.42 193.72,559.62 192.8,557C191.88,554.38 191.6,551.65 191.9,547.8C192.2,543.95 193.08,537.6 194.6,533.9Z" fill="#e3cce5" stroke="#a596a8" stroke-width="0.8" /><text x="201.5" y="540.5" font-size="16" font-weight="normal" fill="#1a1a1a" stroke="#1a1a1a" stroke-width="0.42" transform="rotate(16 201.5 540.5)" >RNA pol II</text><text x="191.8" y="596.2" font-size="16.3" font-weight="normal" fill="#1a1a1a" stroke="#1a1a1a" stroke-width="0.42" transform="rotate(12.2 191.8 596.2)" >Enhancer</text><path d="M266.4,594.3C266.4,597.73 271.41,600.97 276,602C280.82,603.09 285.34,597.13 288.6,599.3C291.87,601.48 288.89,607.15 291,612C293.89,618.63 296.74,620.94 300.7,627.1" fill="none" stroke="#262626" stroke-width="1.3" /><path d="M289.47,620.08 L290.4,623.26 L293.55,624.3 L290.81,626.17 L290.79,629.49 L288.17,627.46 L285,628.47 L286.12,625.35 L284.19,622.65 L287.5,622.75Z" fill="#8dbf55" stroke="#6f9e3e" stroke-width="0.5"/></g><circle cx="707.5" cy="523.5" r="26" fill="url(#gBrd)" stroke="#7e8cb8" stroke-width="0.8"/><ellipse cx="741" cy="490" rx="8.5" ry="5.5" fill="#fbfdf9"/><path d="M688.3,489.3C687.77,486.42 689.05,483.05 691.4,479.9C693.75,476.75 697.68,473.03 702.4,470.4C707.12,467.77 714.2,465.4 719.7,464.1C725.2,462.8 730.15,462.6 735.4,462.6C740.65,462.6 747.13,463.05 751.2,464.1C755.27,465.15 758.1,466.8 759.8,468.9C761.5,471 761.8,474.22 761.4,476.7C761,479.18 758.98,481.97 757.4,483.8C755.82,485.63 753.3,487.47 751.9,487.7C750.5,487.93 750.17,485.78 749,485.2C747.83,484.62 746.57,484.15 744.9,484.2C743.23,484.25 740.9,484.53 739,485.5C737.1,486.47 735,488.05 733.5,490C732,491.95 731.77,495.75 730,497.2C728.23,498.65 726.7,498.32 722.9,498.7C719.1,499.08 711.92,499.75 707.2,499.5C702.48,499.25 697.75,498.9 694.6,497.2C691.45,495.5 688.83,492.18 688.3,489.3Z" fill="#f0bab6" stroke="#c99592" stroke-width="0.8" /><text x="694" y="491.6" font-size="16" font-weight="normal" fill="#1a1a1a" stroke="#1a1a1a" stroke-width="0.42" transform="rotate(-16 694 491.6)" >YTHDC1</text><text x="687.5" y="533.3" font-size="16" font-weight="normal" fill="#1a1a1a" stroke="#1a1a1a" stroke-width="0.42" transform="rotate(-18 687.5 533.3)" >BRD4</text><path d="M725.2,501.9C731.94,499.33 737.89,493.18 741.7,495.6C750.97,501.47 748.21,518.28 757.4,522.3C763.45,524.95 772.51,509.85 779.4,512.1C782.43,513.09 781,522.7 781,530" fill="none" stroke="#262626" stroke-width="1.3" /><path d="M741.7,495.6L741,491" fill="none" stroke="#262626" stroke-width="1.2" /><path d="M780,512.5L782.5,507" fill="none" stroke="#262626" stroke-width="1.2" /><path d="M741,485 L742.47,487.98 L745.76,488.45 L743.38,490.77 L743.94,494.05 L741,492.5 L738.06,494.05 L738.62,490.77 L736.24,488.45 L739.53,487.98Z" fill="#8dbf55" stroke="#6f9e3e" stroke-width="0.5"/><path d="M783.89,501.77 L784.54,505.03 L787.59,506.34 L784.7,507.96 L784.39,511.27 L781.95,509.01 L778.71,509.75 L780.1,506.73 L778.41,503.88 L781.7,504.27Z" fill="#8dbf55" stroke="#6f9e3e" stroke-width="0.5"/><text x="791.6" y="498.7" font-size="16.6" font-weight="bold" fill="#000" >m<tspan font-size="9.5" dy="-5.5">6</tspan><tspan dy="5.5">A-eRNA</tspan></text><text x="685" y="296.9" font-size="16.72" font-weight="normal" fill="#1a1a1a" stroke="#1a1a1a" stroke-width="0.42" >MegaTrans RNP condensate formation</text><text x="66.8" y="665" font-size="16.5" font-weight="normal" fill="#1a1a1a" stroke="#1a1a1a" stroke-width="0.42" >Co-transcriptional nascent eRNA methylation</text><text x="696" y="665" font-size="16.5" font-weight="normal" fill="#1a1a1a" stroke="#1a1a1a" stroke-width="0.42" >Transcriptional condensate formation</text></svg></body></html>
